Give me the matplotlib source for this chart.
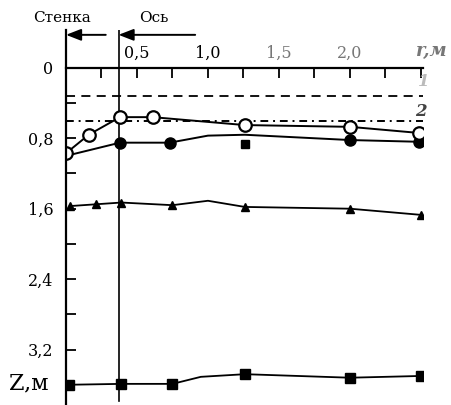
import numpy as np
import matplotlib.pyplot as plt

plt.rcParams['font.family'] = ['DejaVu Serif']

# curve 1 and 2 (horizontal reference levels)
z_line1 = 0.32
z_line2 = 0.60
r_axis = 0.37   # position of the axis line ("Ось")

# open circles
r_open = [0.0, 0.16, 0.38, 0.61, 1.26, 2.0, 2.49]
z_open = [0.97, 0.76, 0.56, 0.56, 0.65, 0.67, 0.74]

# filled circles (line) and the separate square point
r_fill = [0.0, 0.38, 0.73, 1.0, 1.26, 2.0, 2.49]
z_fill = [1.0, 0.85, 0.85, 0.77, 0.76, 0.82, 0.84]
fill_marks = [1, 2, 5, 6]
r_fsq = [1.26]
z_fsq = [0.86]

# triangles
r_tri = [0.03, 0.21, 0.39, 0.75, 1.0, 1.26, 2.0, 2.5]
z_tri = [1.57, 1.55, 1.53, 1.56, 1.51, 1.58, 1.60, 1.67]
tri_marks = [0, 1, 2, 3, 5, 6, 7]

# squares
r_sq = [0.02, 0.39, 0.75, 0.95, 1.26, 2.0, 2.5]
z_sq = [3.60, 3.59, 3.59, 3.51, 3.48, 3.52, 3.50]
sq_marks = [0, 1, 2, 4, 5, 6]

xticks_minor = np.arange(0.25, 2.51, 0.25)
xticks_major = [0.5, 1.0, 1.5, 2.0]
xlabels = ['0,5', '1,0', '1,5', '2,0']
yticks_minor = np.arange(0.4, 3.3, 0.8)
yticks_major = [0, 0.8, 1.6, 2.4, 3.2]
ylabels = ['0', '0,8', '1,6', '2,4', '3,2']

fig = plt.figure(figsize=(4.51, 4.05), dpi=100)
ax = fig.add_axes([66/451, 0, (423-66)/451, (405-30)/405])
ax.set_xlim(0, 2.515)
ax.set_ylim(3.83, -0.43)

for s in ['right', 'bottom']:
    ax.spines[s].set_visible(False)
ax.spines['top'].set_position(('data', 0))
ax.spines['top'].set_linewidth(1.6)
ax.spines['left'].set_linewidth(1.6)

ax.xaxis.tick_top()
ax.set_xticks(xticks_major)
ax.set_xticklabels(xlabels)
ax.set_xticks(xticks_minor, minor=True)
ax.tick_params(axis='x', which='both', direction='in', length=7, width=1.3, labelsize=11.5, pad=4)
ax.set_yticks(yticks_major)
ax.set_yticklabels(ylabels)
ax.set_yticks(yticks_minor, minor=True)
ax.tick_params(axis='y', which='both', direction='in', length=7, width=1.3, labelsize=11.5, pad=9)
for lab in ax.get_xticklabels()[2:]:
    lab.set_color('#777777')

ax.axvline(r_axis, ymin=0.01, color='k', lw=1.2)
ax.axhline(z_line1, color='k', lw=1.3, ls=(0, (5, 3.5)))
ax.axhline(z_line2, color='k', lw=1.4, ls=(0, (4, 2.5, 1, 2.5)))

ax.plot(r_fill, z_fill, color='k', lw=1.4, marker='o', markevery=fill_marks,
        ms=8, mfc='k', mec='k')
ax.plot(r_fsq, z_fsq, ls='none', marker='s', ms=6, color='k')
ax.plot(r_open, z_open, color='k', lw=1.4, marker='o', ms=9, mfc='white',
        mec='k', mew=1.6)
ax.plot(r_tri, z_tri, color='k', lw=1.3, marker='^', markevery=tri_marks, ms=6)
ax.plot(r_sq, z_sq, color='k', lw=1.3, marker='s', markevery=sq_marks, ms=6.5)

ax.text(2.52, 0.16, '1', fontsize=12, fontweight='bold', style='italic',
        color='#bbbbbb', ha='center', va='center')
ax.text(2.5, 0.50, '2', fontsize=12, fontweight='bold', style='italic',
        color='#444444', ha='center', va='center')
ax.text(2.58, -0.19, 'r,м', fontsize=13, fontweight='bold', style='italic',
        color='#777777', ha='center', va='center', clip_on=False)
ax.text(-0.26, 3.58, 'Z,м', fontsize=16, ha='center', va='center', clip_on=False)

ax.annotate('', xy=(0.0, -0.375), xytext=(0.28, -0.375),
            arrowprops=dict(arrowstyle='-|>,head_length=0.9,head_width=0.35',
                            color='k', lw=1.4, shrinkA=0, shrinkB=0))
ax.annotate('', xy=(r_axis, -0.375), xytext=(0.91, -0.375),
            arrowprops=dict(arrowstyle='-|>,head_length=0.9,head_width=0.35',
                            color='k', lw=1.4, shrinkA=0, shrinkB=0))
ax.text(-0.03, -0.57, 'Стенка', fontsize=11, ha='center', va='center', clip_on=False)
ax.text(0.62, -0.57, 'Ось', fontsize=11, ha='center', va='center')

fig.savefig('out.png', dpi=100)
